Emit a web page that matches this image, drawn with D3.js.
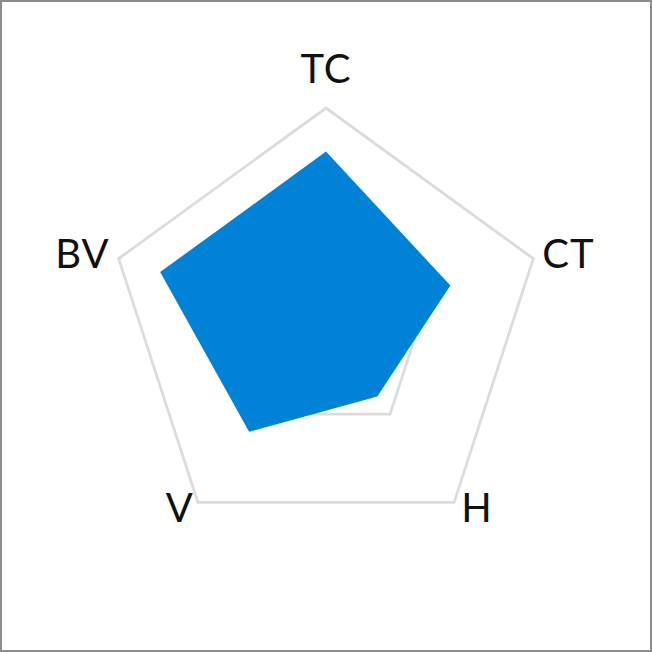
<!DOCTYPE html>
<html>
<head>
<meta charset="utf-8">
<script src="https://cdn.jsdelivr.net/npm/d3@7"></script>
<style>
  html, body { margin: 0; padding: 0; background: #fff; }
  svg { display: block; }
</style>
</head>
<body>
<script>
const categories = ["TC", "CT", "H", "V", "BV"];
const values = [0.8, 0.6, 0.4, 0.6, 0.8];
const gridLevels = [0.5, 1.0];

const W = 652, H = 652;
const cx = 326, cy = 326, R = 218;

const svg = d3.select("body").append("svg")
  .attr("width", W).attr("height", H);

svg.append("rect")
  .attr("x", 1).attr("y", 1).attr("width", W - 2).attr("height", H - 2)
  .attr("fill", "#fff").attr("stroke", "#8c8c8c").attr("stroke-width", 2);

const angle = d3.scaleLinear().domain([0, categories.length]).range([0, 2 * Math.PI]);
const r = d3.scaleLinear().domain([0, 1]).range([0, R]);

const g = svg.append("g").attr("transform", `translate(${cx},${cy})`);

const radial = d3.lineRadial()
  .angle((d, i) => angle(i))
  .radius(d => r(d))
  .curve(d3.curveLinearClosed);

gridLevels.forEach(lv => {
  g.append("path")
    .attr("d", radial(categories.map(() => lv)))
    .attr("fill", "none")
    .attr("stroke", "#dcdcdc")
    .attr("stroke-width", 2.8);
});

g.append("path")
  .attr("d", radial(values))
  .attr("fill", "#0083d6")
  .attr("stroke", "none");

categories.forEach((c, i) => {
  const a = angle(i);
  const vx = Math.sin(a) * r(1);
  const vy = -Math.cos(a) * r(1);
  let x = vx, y = vy, anchor = "middle";
  if (Math.abs(Math.sin(a)) < 0.01) {
    y = vy - 25;
  } else if (vy < 0) {
    anchor = Math.sin(a) > 0 ? "start" : "end";
    x = vx + (Math.sin(a) > 0 ? 9 : -9);
    y = vy + 9;
  } else {
    anchor = Math.sin(a) > 0 ? "start" : "end";
    x = vx + (Math.sin(a) > 0 ? 7 : -4);
    y = vy + 20;
  }
  g.append("text")
    .attr("x", x).attr("y", y)
    .attr("text-anchor", anchor)
    .attr("font-family", "Lato, sans-serif")
    .attr("font-size", 40)
    .attr("letter-spacing", 1)
    .attr("fill", "#111")
    .text(c);
});
</script>
</body>
</html>
